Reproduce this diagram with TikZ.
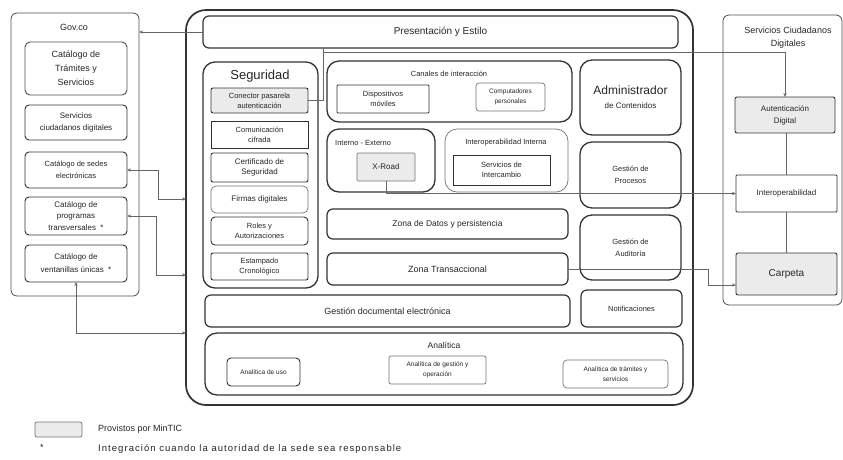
\documentclass[tikz,border=0pt]{standalone}
\usepackage{fontspec}
\setmainfont{Liberation Sans}
\usetikzlibrary{arrows.meta}
\newcommand\fs[2]{\fontsize{#1}{#2}\selectfont}
\newcommand\bx[7]{\node[#6,minimum width={(#4)-(#2)},minimum height={(#5)-(#3)}] (#1) at ({((#2)+(#4))/2},{((#3)+(#5))/2}) {#7};}
\tikzset{
  base/.style={draw=black!80,align=center,inner sep=1pt,outer sep=0pt,text=black!85},
  outerbox/.style={base,draw=black!70,line width=0.8pt,rounded corners=6pt},
  mainbox/.style={base,line width=1.7pt,rounded corners=20pt},
  heavy/.style={base,line width=1.2pt,rounded corners=6pt},
  heavyr/.style={base,line width=1.3pt,rounded corners=12pt},
  small/.style={base,line width=0.9pt,rounded corners=2pt},
  light/.style={base,draw=black!55,line width=0.7pt,rounded corners=5pt},
  provided/.style={fill=black!8},
  ttl/.style={inner sep=0pt,text=black!85,align=center},
  conn/.style={draw=black!60,line width=0.6pt},
  tip/.tip={Stealth[length=4pt,width=3.2pt]},
}
\begin{document}
\begin{tikzpicture}[x=1pt,y=-1pt]
\useasboundingbox (0,0) rectangle (843,459);
% ---------- Gov.co ----------
\bx{govco}{11}{13}{139}{296}{outerbox}{}
\node[ttl,font=\fs{9}{11}] (govt) at (74,27) {Gov.co};
\bx{tram}{25}{42}{127}{95}{light,draw=black!70,line width=0.9pt,font=\fs{9}{14}}{Catálogo de\\Trámites y\\Servicios}
\bx{scdg}{25}{105}{127}{140}{small,rounded corners=4pt,font=\fs{8}{12}}{Servicios\\ciudadanos digitales}
\bx{sedes}{25}{152}{127}{188}{small,rounded corners=4pt,font=\fs{7.5}{12}}{Catálogo de sedes\\electrónicas}
\bx{prog}{25}{197}{127}{235}{small,rounded corners=4pt,font=\fs{8}{11.5}}{Catálogo de\\programas\\transversales \ *}
\bx{vent}{25}{245}{127}{282}{small,rounded corners=4pt,font=\fs{8}{13}}{Catálogo de\\ventanillas únicas \ *}
% ---------- main ----------
\bx{main}{186}{10}{693}{405}{mainbox}{}
\bx{pres}{203}{16}{678}{48}{heavy,font=\fs{10}{12}}{Presentación y Estilo}
% Seguridad
\bx{seg}{203}{62}{318}{288}{heavyr}{}
\node[ttl,font=\fs{13}{15}] (segt) at (260,76) {Seguridad};
\bx{con}{211}{88}{308}{113}{small,provided,font=\fs{7.5}{10}}{Conector pasarela\\autenticación}
\bx{cif}{211}{121}{308}{148}{small,rounded corners=0pt,font=\fs{7.5}{10}}{Comunicación\\cifrada}
\bx{cert}{211}{153}{308}{182}{small,font=\fs{8}{10.5}}{Certificado de\\Seguridad}
\bx{firm}{211}{186}{308}{213}{light,font=\fs{8}{10}}{Firmas digitales}
\bx{roles}{211}{217}{308}{245}{small,rounded corners=4pt,font=\fs{7.5}{10.5}}{Roles y\\Autorizaciones}
\bx{est}{211}{253}{308}{280}{small,font=\fs{7.5}{10.5}}{Estampado\\Cronológico}
% Canales
\bx{can}{327}{61}{572}{122}{heavyr}{}
\node[ttl,font=\fs{7.5}{9}] (cant) at (449,74) {Canales de interacción};
\bx{disp}{337}{85}{429}{113}{small,rounded corners=1pt,font=\fs{7.5}{10}}{Dispositivos\\móviles}
\bx{comp}{476}{83}{545}{111}{light,rounded corners=3pt,font=\fs{6.5}{10}}{Computadores\\personales}
% Interno - Externo
\bx{ie}{327}{129}{435}{192}{heavyr}{}
\node[ttl,anchor=west,font=\fs{7.5}{9}] (iet) at (335,143) {Interno - Externo};
\bx{xroad}{357}{153}{415}{181}{light,provided,rounded corners=1pt,font=\fs{8}{10}}{X-Road}
% Interoperabilidad interna
\bx{ii}{445}{129}{568}{192}{light,rounded corners=12pt}{}
\node[ttl,font=\fs{7.5}{9}] (iit) at (506,143) {Interoperabilidad Interna};
\bx{sdi}{453}{155}{550}{185}{small,rounded corners=0pt,font=\fs{7.5}{10.5}}{Servicios de\\Intercambio}
% Zonas
\bx{zd}{327}{209}{568}{239}{heavy,font=\fs{8.5}{10}}{Zona de Datos y persistencia}
\bx{zt}{327}{253}{568}{285}{heavy,font=\fs{9}{11}}{Zona Transaccional}
% right column
\bx{adm}{580}{60}{681}{135}{heavyr,font=\fs{8}{10}}{{\fs{12}{15}Administrador}\\[4pt]de Contenidos}
\bx{gp}{580}{142}{681}{208}{heavyr,font=\fs{7.5}{12}}{Gestión de\\Procesos}
\bx{ga}{580}{215}{681}{280}{heavyr,font=\fs{7.5}{12}}{Gestión de\\Auditoría}
\bx{notif}{581}{290}{682}{327}{heavy,font=\fs{7.5}{9}}{Notificaciones}
\bx{gde}{205}{295}{570}{327}{heavy,font=\fs{9}{11}}{Gestión documental electrónica}
% Analitica
\bx{ana}{205}{333}{683}{395}{heavyr}{}
\node[ttl,font=\fs{8.5}{10}] (anat) at (444,345) {Analítica};
\bx{au}{227}{358}{300}{386}{small,rounded corners=4pt,font=\fs{6.5}{9}}{Analítica de uso}
\bx{ag}{389}{356}{486}{384}{light,rounded corners=2pt,font=\fs{6.5}{9.5}}{Analítica de gestión y\\operación}
\bx{at}{563}{360}{668}{388}{light,rounded corners=4pt,font=\fs{6.5}{9.5}}{Analítica de trámites y\\servicios}
% ---------- Servicios Ciudadanos Digitales ----------
\bx{scd}{723}{15}{842}{305}{outerbox}{}
\node[ttl,font=\fs{9}{13}] (scdt) at (788,38) {Servicios Ciudadanos\\Digitales};
\bx{aut}{735}{97}{835}{133}{small,provided,font=\fs{8}{12}}{Autenticación\\Digital}
\bx{iop}{736}{175}{837}{212}{small,rounded corners=1pt,font=\fs{8}{10}}{Interoperabilidad}
\bx{carp}{736}{253}{837}{295}{small,provided,font=\fs{10}{12}}{Carpeta}
% ---------- connectors ----------
\coordinate (p1) at (323,48);
\coordinate (p2) at (323,52);
\coordinate (c1) at (708,285);
\coordinate (k1) at (158,199);
\coordinate (k2) at (156,275);
\coordinate (k3) at (76,333);
\draw[conn,-tip] (pres.west) -- (govco.east |- pres.west);
\draw[conn] (p1) |- (con.east);
\draw[conn,-tip] (p2) -| (aut.north);
\draw[conn,-tip] (xroad.south) |- (iop.west);
\draw[conn,-tip] (zt.east) -| (c1) -- (carp.west |- c1);
\draw[conn,line width=0.8pt] (aut.south -| iop.north) -- (iop.north);
\draw[conn,line width=0.8pt] (iop.south) -- (carp.north);
\draw[conn,tip-tip] (sedes.east) -| (k1) -- (main.west |- k1);
\draw[conn,tip-tip] (prog.east) -| (k2) -- (main.west |- k2);
\draw[conn,tip-tip] (vent.south) -- (k3) -- (main.west |- k3);
% ---------- legend ----------
\bx{leg}{35}{422}{82}{437}{light,provided,rounded corners=2pt}{}
\node[ttl,anchor=west,font=\fs{9}{11}] (legt1) at (98,429) {Provistos por MinTIC};
\node[ttl,font=\fs{9}{11}] (star) at (42,447) {*};
\node[ttl,anchor=west,font={\fs{9.5}{11}\addfontfeature{LetterSpace=11}}] (legt2) at (98,449) {Integración cuando la autoridad de la sede sea responsable};
\end{tikzpicture}
\end{document}
